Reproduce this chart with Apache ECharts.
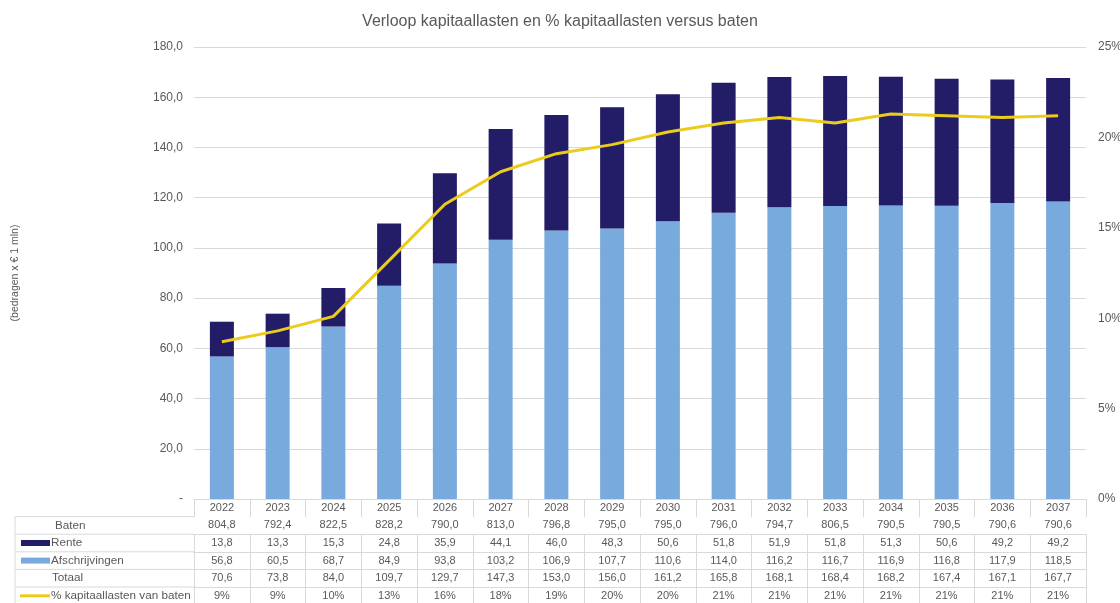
<!DOCTYPE html>
<html>
<head>
    <meta charset="utf-8">
    <title>Kapitaallasten</title>
    <script src="https://cdn.jsdelivr.net/npm/echarts@6/dist/echarts.min.js"></script>
</head>
<body style="margin:0">
    <div id="chart" style="width:1120px;height:603px"></div>
<script>
    // data uit de tabel onder de grafiek
    var jaren = ['2022','2023','2024','2025','2026','2027','2028','2029','2030','2031','2032','2033','2034','2035','2036','2037'];
    var baten = [804.8,792.4,822.5,828.2,790.0,813.0,796.8,795.0,795.0,796.0,794.7,806.5,790.5,790.5,790.6,790.6];
    var rente = [13.8,13.3,15.3,24.8,35.9,44.1,46.0,48.3,50.6,51.8,51.9,51.8,51.3,50.6,49.2,49.2];
    var afschrijvingen = [56.8,60.5,68.7,84.9,93.8,103.2,106.9,107.7,110.6,114.0,116.2,116.7,116.9,116.8,117.9,118.5];
    var totaal = [70.6,73.8,84.0,109.7,129.7,147.3,153.0,156.0,161.2,165.8,168.1,168.4,168.2,167.4,167.1,167.7];
    var percentage = [8.7,9.3,10.1,13.2,16.3,18.1,19.1,19.6,20.3,20.8,21.1,20.8,21.3,21.2,21.1,21.2];

    var grijs = '#595959';
    var lijn = '#d9d9d9';
    var rij = 17.6;
    var top0 = 499;

    function komma(v){ return v.toFixed(1).replace('.', ','); }

    var chart = echarts.init(document.getElementById('chart'));

    // een x-as per tabelrij
    var rijen = [
        baten.map(komma),
        rente.map(komma),
        afschrijvingen.map(komma),
        totaal.map(komma),
        percentage.map(function(v){ return Math.round(v) + '%'; })
    ];
    var xAxes = [{
        type: 'category',
        data: jaren,
        position: 'bottom',
        axisLine: {lineStyle: {color: lijn}},
        axisTick: {show: true, length: rij, interval: 0, lineStyle: {color: lijn}},
        axisLabel: {interval: 0, color: grijs, fontSize: 11, margin: 0, lineHeight: rij},
        axisPointer: {show: false}
    }];
    rijen.forEach(function(d, i){
        xAxes.push({
            type: 'category',
            data: d,
            position: 'bottom',
            offset: rij * (i + 1),
            axisLine: {lineStyle: {color: lijn}},
            axisTick: {show: true, length: rij, interval: 0, lineStyle: {color: lijn}},
            axisLabel: {interval: 0, color: grijs, fontSize: 11, margin: 0, lineHeight: rij},
            axisPointer: {show: false}
        });
    });

    // labels en lijnen van de linker tabelkolom
    var labels = ['Baten','Rente','Afschrijvingen','Totaal','% kapitaallasten van baten'];
    var labelX = [55,51,51,52,51];
    var graphic = [];
    for (var i = 1; i <= 5; i++) {
        graphic.push({type: 'line', shape: {x1: 15, y1: top0 + rij * i, x2: 194, y2: top0 + rij * i}, style: {stroke: lijn, lineWidth: 1}});
        graphic.push({type: 'text', x: labelX[i - 1], y: top0 + rij * i + rij / 2, style: {text: labels[i - 1], fill: grijs, font: '11.7px Arial, "Liberation Sans"', verticalAlign: 'middle'}});
    }
    graphic.push({type: 'line', shape: {x1: 15, y1: top0 + rij, x2: 15, y2: 603}, style: {stroke: lijn, lineWidth: 1}});
    graphic.push({type: 'rect', shape: {x: 21, y: top0 + rij * 2.5 - 3, width: 29, height: 6}, style: {fill: '#221d66'}});
    graphic.push({type: 'rect', shape: {x: 21, y: top0 + rij * 3.5 - 3, width: 29, height: 6}, style: {fill: '#78aade'}});
    graphic.push({type: 'line', shape: {x1: 20, y1: top0 + rij * 5.5, x2: 50, y2: top0 + rij * 5.5}, style: {stroke: '#ebcb1b', lineWidth: 3}});

    var option = {
        textStyle: {fontFamily: 'Arial, "Liberation Sans", sans-serif'},
        title: {
            text: 'Verloop kapitaallasten en % kapitaallasten versus baten',
            left: 'center',
            top: 9,
            textStyle: {fontSize: 16, fontWeight: 'normal', color: grijs}
        },
        grid: {left: 194, right: 34, top: 47, bottom: 104, outerBoundsMode: 'none'},
        xAxis: xAxes,
        yAxis: [
            {
                type: 'value',
                min: 0, max: 180, interval: 20,
                name: '(bedragen x € 1 mln)',
                nameLocation: 'middle',
                nameRotate: 90,
                nameGap: 173,
                nameTextStyle: {color: grijs, fontSize: 10.5},
                axisLine: {show: false},
                axisTick: {show: false},
                axisLabel: {color: grijs, fontSize: 12, margin: 11, formatter: function(v){ return v === 0 ? '-' : komma(v); }},
                splitLine: {lineStyle: {color: lijn}}
            },
            {
                type: 'value',
                min: 0, max: 25, interval: 5,
                axisLine: {show: false},
                axisTick: {show: false},
                axisLabel: {color: grijs, fontSize: 12, margin: 12, formatter: '{value}%'},
                splitLine: {show: false}
            }
        ],
        graphic: graphic,
        series: [
            {
                name: 'Afschrijvingen',
                type: 'bar',
                stack: 'kap',
                barWidth: 24,
                data: afschrijvingen,
                itemStyle: {color: '#78aade'}
            },
            {
                name: 'Rente',
                type: 'bar',
                stack: 'kap',
                barWidth: 24,
                data: rente,
                itemStyle: {color: '#221d66'}
            },
            {
                name: '% kapitaallasten van baten',
                type: 'line',
                yAxisIndex: 1,
                data: percentage,
                symbol: 'none',
                lineStyle: {color: '#ebcb1b', width: 3},
                itemStyle: {color: '#ebcb1b'}
            }
        ]
    };
    chart.setOption(option);
</script>
</body>
</html>
